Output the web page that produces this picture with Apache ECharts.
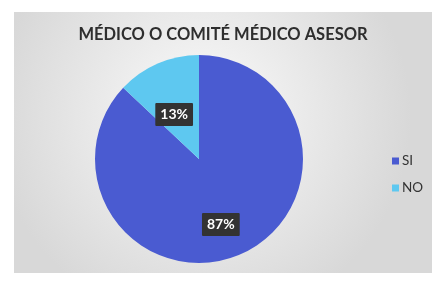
<!DOCTYPE html>
<html>
<head>
<meta charset="utf-8">
<script src="https://cdn.jsdelivr.net/npm/echarts@6/dist/echarts.min.js"></script>
<style>
  html, body { margin: 0; padding: 0; background: #ffffff; }
  #chart { position: absolute; left: 14px; top: 12px; width: 418px; height: 261px; }
</style>
</head>
<body>
<div id="chart"></div>
<script>
// chart data
const titleText = 'MÉDICO O COMITÉ MÉDICO ASESOR';
const categories = ['SI', 'NO'];
const values = [87, 13];
const colors = ['#4a5bd1', '#5ec8f0'];
const labelOffsets = [[0, 15], [-3, 6]];

let chart = echarts.init(document.getElementById('chart'));

let data = categories.map(function (name, i) {
    return {
        name: name,
        value: values[i],
        itemStyle: {color: colors[i]},
        label: {offset: labelOffsets[i]}
    };
});

chart.setOption({
    animation: false,
    backgroundColor: {
        type: 'radial', x: 0.45, y: 0.4, r: 0.8,
        colorStops: [
            {offset: 0, color: '#fbfbfb'},
            {offset: 1, color: '#d8d8d8'}
        ]
    },
    title: {
        text: titleText,
        left: 'center',
        top: 9,
        textStyle: {
            fontFamily: 'Lato',
            fontSize: 16.5,
            fontWeight: 'bold',
            color: '#2e2e2e'
        }
    },
    legend: {
        orient: 'vertical',
        left: 373,
        top: 137,
        itemWidth: 7,
        itemHeight: 7,
        itemGap: 13,
        icon: 'rect',
        textStyle: {fontFamily: 'Lato', fontSize: 13.5, color: '#333', padding: [0, 0, 0, -2]}
    },
    series: [{
        type: 'pie',
        center: [185, 147],
        radius: 104,
        startAngle: 90,
        clockwise: true,
        data: data,
        label: {
            position: 'inside',
            formatter: '{c}%',
            fontFamily: 'Lato',
            fontSize: 14,
            fontWeight: 'bold',
            color: '#ffffff',
            backgroundColor: '#333333',
            padding: [5, 5, 4, 5],
            borderRadius: 1
        },
        labelLine: {show: false},
        itemStyle: {borderWidth: 0}
    }]
});
</script>
</body>
</html>
